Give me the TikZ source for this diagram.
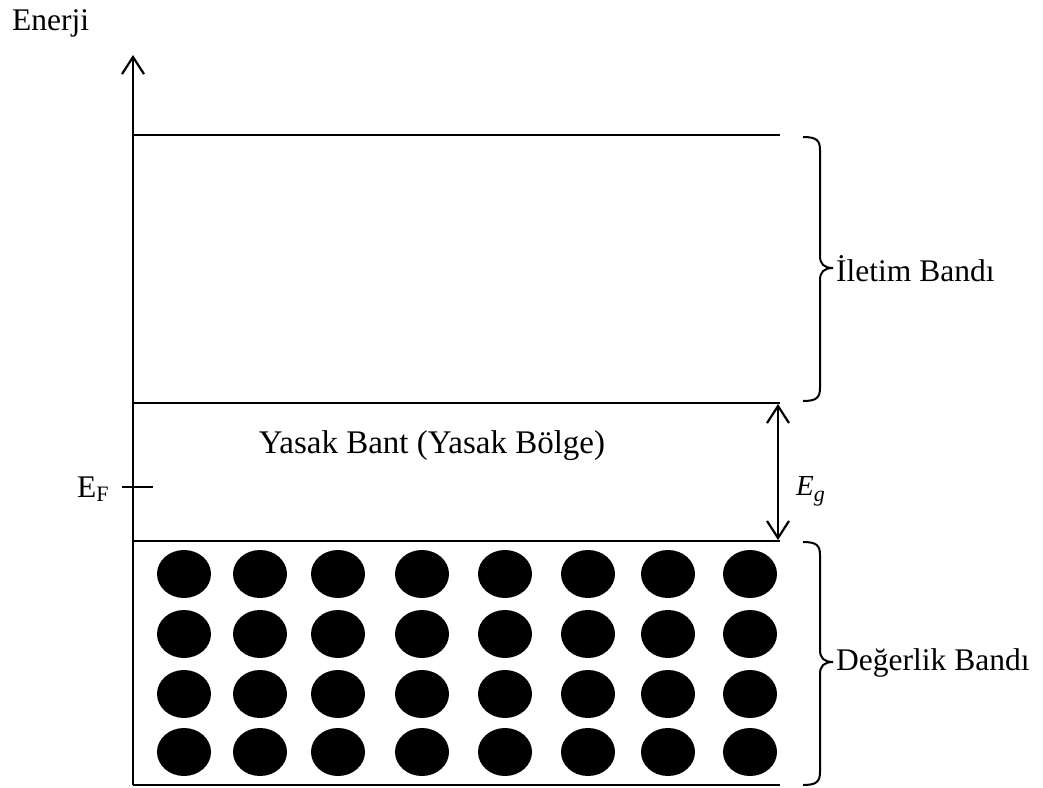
\documentclass[tikz,border=0pt]{standalone}
\usepackage{fontspec}
\setmainfont{Liberation Serif}
\usetikzlibrary{arrows.meta}
\begin{document}
\begin{tikzpicture}[x=1pt,y=-1pt,
  lvl/.style={line width=2.2pt},
  axisline/.style={line width=2.2pt,-{Straight Barb[length=17pt,width=22pt,line width=2.2pt]}},
  gaparrow/.style={line width=2.2pt,{Straight Barb[length=17pt,width=22pt,line width=2.2pt]}-{Straight Barb[length=17pt,width=22pt,line width=2.2pt]}},
  bracestyle/.style={line width=2pt},
  lbl/.style={font=\fontsize{31.5}{36}\selectfont, inner sep=0pt}
]
\useasboundingbox (0,0) rectangle (1043,787);
% axis
\coordinate (ax0) at (133,785);
\coordinate (ax1) at (133,55);
\draw[axisline] (ax0) -- (ax1);
\node[lbl, anchor=base west] (enerji) at (12,30) {Enerji};
% levels
\coordinate (c1l) at (133,135); \coordinate (c1r) at (780,135);
\coordinate (c2l) at (133,403); \coordinate (c2r) at (780,403);
\coordinate (v1l) at (133,541); \coordinate (v1r) at (780,541);
\coordinate (v2l) at (133,785); \coordinate (v2r) at (780,785);
\draw[lvl] (c1l) -- (c1r);
\draw[lvl] (c2l) -- (c2r);
\draw[lvl] (v1l) -- (v1r);
\draw[lvl] (v2l) -- (v2r);
% Fermi level
\coordinate (ef1) at (122,487); \coordinate (ef2) at (153,487);
\draw[lvl] (ef1) -- (ef2);
\node[lbl, anchor=base west] (ef) at (77,497) {E\raisebox{-4pt}{\fontsize{22}{24}\selectfont F}};
% gap label
\node[lbl, font=\fontsize{33}{38}\selectfont, anchor=base] (yasak) at (432,453) {Yasak Bant (Yasak Bölge)};
% gap arrow
\coordinate (g1) at (778,404); \coordinate (g2) at (778,540);
\draw[gaparrow] (g1) -- (g2);
\node[lbl, anchor=base west] (eg) at (796,495) {\fontsize{29}{34}\selectfont\itshape E\raisebox{-6pt}{\fontsize{22}{24}\selectfont g}};
% upper brace
\draw[bracestyle] (803,137) .. controls (816,137) and (820,140) .. (820,150)
  -- (820,256) .. controls (820,264) and (824,268) .. (833,268)
  .. controls (824,268) and (820,272) .. (820,280)
  -- (820,388) .. controls (820,398) and (816,401) .. (803,401);
\node[lbl, anchor=west] (iletim) at (836,269) {İletim Bandı};
% lower brace
\draw[bracestyle] (803,542) .. controls (816,542) and (820,545) .. (820,555)
  -- (820,650) .. controls (820,658) and (824,662) .. (833,662)
  .. controls (824,662) and (820,666) .. (820,674)
  -- (820,772) .. controls (820,782) and (816,785) .. (803,785);
\node[lbl, anchor=west] (degerlik) at (836,663) {Değerlik Bandı};
% electrons
\foreach \r/\y in {1/574,2/634,3/694,4/752}{
  \foreach \c/\x in {1/184,2/260,3/338,4/422,5/505,6/588,7/668,8/750}{
    \fill (\x,\y) ellipse [x radius=27, y radius=24];
  }
}
\end{tikzpicture}
\end{document}
